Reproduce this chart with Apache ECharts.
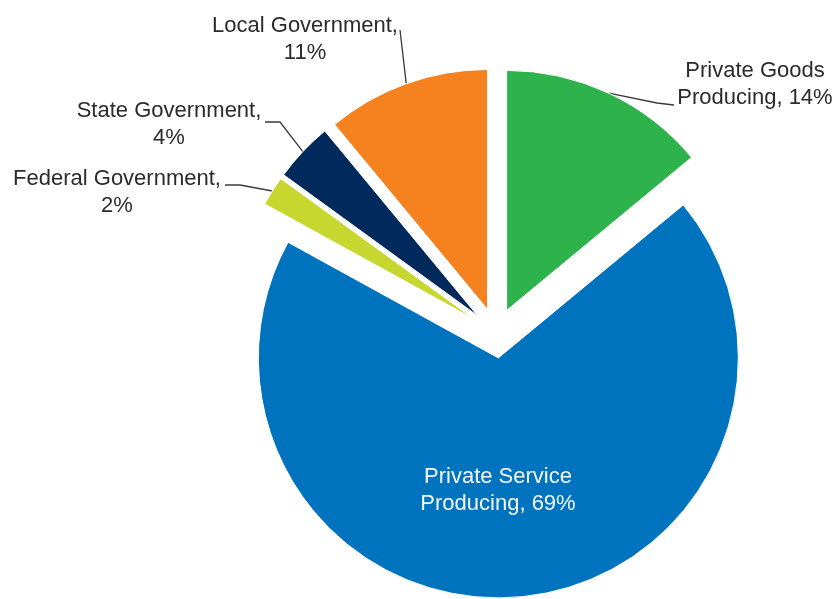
<!DOCTYPE html>
<html>
<head>
<meta charset="utf-8">
<script src="https://cdn.jsdelivr.net/npm/echarts@6/dist/echarts.min.js"></script>
<style>
  html, body { margin: 0; padding: 0; background: #fff; }
  #chart { width: 837px; height: 599px; }
</style>
</head>
<body>
<div id="chart"></div>
<script>
// Employment share by sector (percent)
const sectors = [
  'Private Goods\nProducing',
  'Private Service\nProducing',
  'Federal Government,',
  'State Government,',
  'Local Government,'
];
const shares = [14, 69, 2, 4, 11];
const sliceColors = ['#2EB24C', '#0073BE', '#C6D830', '#002A5C', '#F5821F'];

// Label centres and leader-line bends for each slice's caption
const labelPlace = [
  { x: 755, y: 84, bend: [[657, 103], [674, 105]] },
  { x: 498, y: 490 },
  { x: 117, y: 192, bend: [[240, 185], [225, 185]] },
  { x: 169, y: 124, bend: [[280, 122], [265, 122]] },
  { x: 305, y: 39, bend: [[400, 30]] }
];

const pieCenter = [496, 333];
const pieRadius = 240;
const explode = 25;

const chart = echarts.init(document.getElementById('chart'));

const slices = sectors.map((name, i) => ({
  name: name,
  value: shares[i],
  selected: true,
  itemStyle: { color: sliceColors[i] }
}));

// Caption text for every slice
const captions = sectors.map((name, i) => {
  const inside = i === 1;
  const sep = name.endsWith(',') ? '\n' : ', ';
  return {
    name: name,
    value: shares[i],
    label: {
      color: inside ? '#f4f8fc' : '#2b2b2b',
      formatter: () => name + sep + shares[i] + '%'
    },
    labelLine: { show: !inside }
  };
});

chart.setOption({
  animation: false,
  series: [
    {
      // exploded slices
      type: 'pie',
      center: pieCenter,
      radius: pieRadius,
      startAngle: 90,
      clockwise: true,
      selectedMode: 'multiple',
      selectedOffset: explode,
      itemStyle: { borderColor: '#fff', borderWidth: 1 },
      label: { show: false },
      labelLine: { show: false },
      emphasis: { disabled: true },
      data: slices
    },
    {
      // captions and leader lines, anchored on the exploded outer arcs
      type: 'pie',
      center: pieCenter,
      radius: pieRadius + explode,
      startAngle: 90,
      clockwise: true,
      silent: true,
      avoidLabelOverlap: false,
      itemStyle: { color: 'rgba(0,0,0,0)' },
      emphasis: { disabled: true },
      label: {
        show: true,
        position: 'outside',
        fontFamily: 'Liberation Sans, Arial, sans-serif',
        fontSize: 22,
        lineHeight: 27,
        align: 'center'
      },
      labelLine: {
        show: true,
        length: 15,
        length2: 15,
        lineStyle: { color: '#3a3a3a', width: 1.3 }
      },
      labelLayout: function (p) {
        const place = labelPlace[p.dataIndex];
        const out = { x: place.x, y: place.y, align: 'center', verticalAlign: 'middle' };
        if (place.bend && p.labelLinePoints) {
          out.labelLinePoints = [p.labelLinePoints[0]].concat(place.bend);
        }
        return out;
      },
      data: captions
    }
  ]
});
</script>
</body>
</html>
